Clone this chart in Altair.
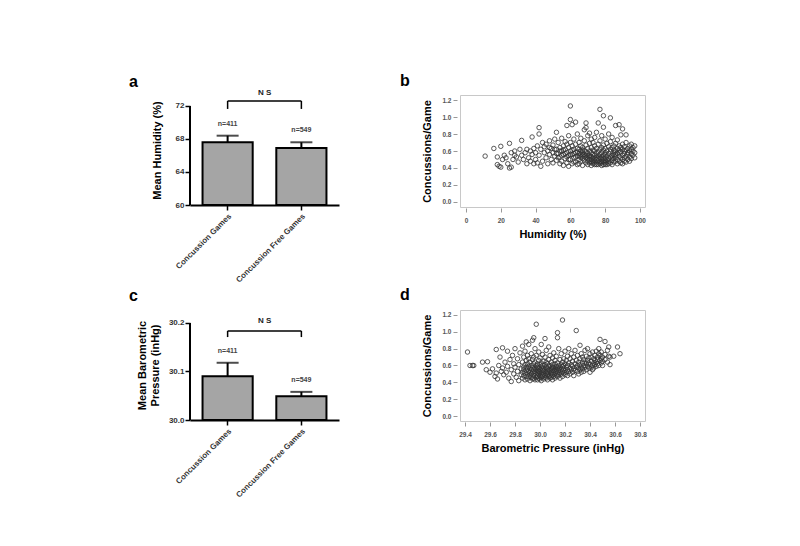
import altair as alt
import pandas as pd

# ---------------- bar panels (a, c) ----------------
CATS = ["Concussion Games", "Concussion Free Games"]
N_LABELS = ["n=411", "n=549"]
HUM_MEAN = [67.6, 66.9]
HUM_UPPER = [68.4, 67.6]
BARO_MEAN = [30.090, 30.049]
BARO_UPPER = [30.118, 30.058]

# ---------------- scatter b: humidity (%) -> concussions/game ----------------
HUM_COLS = [
    (11, [0.54]), (16, [0.63]), (18, [0.53, 0.44]), (19, [0.42]), (20, [0.41, 0.655]),
    (21, [0.50]), (22, [0.55]), (23, [0.52]), (24, [0.45]), (25, [0.69, 0.40]),
    (26, [0.41, 0.58]), (27, [0.50]), (28, [0.55, 0.60]), (29, [0.53]), (30, [0.47]),
    (31, [0.62]), (32, [0.725, 0.55]), (33, [0.50]), (34, [0.58]), (35, [0.45, 0.62]),
    (36, [0.52]), (37, [0.48, 0.60]), (38, [0.765, 0.56]), (39, [0.63, 0.45]),
    (40, [0.58, 0.50]), (41, [0.46, 0.66]), (42, [0.875, 0.80, 0.55]), (43, [0.42, 0.62]),
    (44, [0.48, 0.70]), (45, [0.58, 0.65]), (46, [0.52, 0.68]), (47, [0.60, 0.45]),
    (48, [0.72, 0.56, 0.64]), (49, [0.63, 0.50]), (50, [0.58, 0.67, 0.46]),
    (51, [0.74, 0.54, 0.62]), (52, [0.62, 0.82, 0.49, 0.57]), (53, [0.57, 0.70, 0.52]),
    (54, [0.64, 0.45, 0.53, 0.60]), (55, [0.60, 0.75, 0.48, 0.55]),
    (56, [0.66, 0.56, 0.43, 0.61]), (57, [0.62, 0.71, 0.51, 0.57]),
    (58, [0.58, 0.46, 0.68, 0.90, 0.53]), (59, [0.55, 0.64, 0.42, 0.78, 0.50]),
    (60, [1.13, 0.97, 0.60, 0.50, 0.70, 0.56]), (61, [0.91, 0.56, 0.45, 0.66, 0.61]),
    (62, [0.62, 0.52, 0.74, 0.57, 0.47]), (63, [0.94, 0.58, 0.47, 0.68, 0.53]),
    (64, [0.54, 0.63, 0.80, 0.44, 0.59]), (65, [0.50, 0.57, 0.62, 0.70, 0.45, 0.54]),
    (66, [0.53, 0.60, 0.48, 0.75, 0.66, 0.56]), (67, [0.55, 0.51, 0.64, 0.43, 0.58, 0.61]),
    (68, [0.49, 0.61, 0.56, 0.72, 0.85, 0.53]), (69, [0.93, 0.875, 0.52, 0.59, 0.46, 0.67, 0.55]),
    (70, [0.54, 0.48, 0.63, 0.57, 0.78, 0.44, 0.51]), (71, [0.50, 0.60, 0.55, 0.69, 0.46, 0.81, 0.53]),
    (72, [0.53, 0.47, 0.58, 0.64, 0.43, 0.74, 0.50]), (73, [0.49, 0.56, 0.61, 0.52, 0.45, 0.70, 0.47]),
    (74, [0.55, 0.48, 0.66, 0.51, 0.60, 0.44, 0.76]), (75, [0.50, 0.57, 0.46, 0.63, 0.53, 0.82, 0.44]),
    (76, [0.93, 0.54, 0.48, 0.59, 0.44, 0.68, 0.51]), (77, [1.09, 0.56, 0.47, 0.62, 0.52, 0.72, 0.45]),
    (78, [0.50, 0.58, 0.46, 0.64, 0.53, 0.78, 0.43, 0.48]),
    (79, [1.015, 0.55, 0.48, 0.61, 0.51, 0.88, 0.44, 0.67]),
    (80, [0.52, 0.58, 0.46, 0.63, 0.49, 0.74, 0.56, 0.44]), (81, [0.54, 0.47, 0.60, 0.50, 0.69, 0.44]),
    (82, [0.57, 0.51, 0.65, 0.48, 0.80, 0.45]), (83, [0.99, 0.53, 0.59, 0.46, 0.62, 0.71]),
    (84, [0.55, 0.49, 0.64, 0.52, 0.76, 0.44]), (85, [0.58, 0.51, 0.47, 0.66, 0.55, 0.61]),
    (86, [0.90, 0.53, 0.60, 0.48, 0.69, 0.56]), (87, [0.50, 0.57, 0.63, 0.45, 0.73]),
    (88, [0.91, 0.54, 0.61, 0.48, 0.58, 0.66]), (89, [0.52, 0.59, 0.46, 0.64, 0.79]),
    (90, [0.86, 0.55, 0.62, 0.50, 0.68, 0.45]), (91, [0.57, 0.52, 0.65, 0.48, 0.60]),
    (92, [0.79, 0.54, 0.61, 0.47, 0.70]), (93, [0.56, 0.50, 0.63, 0.58]),
    (94, [0.53, 0.66, 0.48, 0.60]), (95, [0.57, 0.62, 0.51, 0.68]),
    (96, [0.55, 0.64, 0.60]), (97, [0.58, 0.66, 0.52]),
]

# ---------------- scatter d: barometric pressure (inHg) -> concussions/game ----------------
BARO_COLS = [
    (29.42, [0.76]), (29.44, [0.60]), (29.46, [0.60]), (29.47, [0.60]), (29.54, [0.64]),
    (29.57, [0.55]), (29.58, [0.645]), (29.60, [0.52]), (29.62, [0.56]), (29.64, [0.47]),
    (29.65, [0.79, 0.51]), (29.66, [0.44]), (29.67, [0.60]), (29.68, [0.70]), (29.69, [0.53]),
    (29.70, [0.81, 0.57]), (29.71, [0.49]), (29.72, [0.64]), (29.73, [0.52]), (29.74, [0.77, 0.59]),
    (29.75, [0.45]), (29.76, [0.67]), (29.77, [0.55, 0.41]), (29.78, [0.72]), (29.79, [0.50, 0.62]),
    (29.80, [0.58, 0.80]), (29.81, [0.46]), (29.82, [0.53, 0.68]), (29.83, [0.61, 0.42]),
    (29.84, [0.75]), (29.85, [0.49, 0.56]),
    (29.86, [0.52, 0.64, 0.45, 0.83]), (29.87, [0.58, 0.48, 0.70, 0.55]),
    (29.88, [0.43, 0.61, 0.51, 0.77]), (29.89, [0.88, 0.54, 0.47, 0.66, 0.58]),
    (29.90, [0.50, 0.62, 0.44, 0.56, 0.72]), (29.91, [0.53, 0.47, 0.68, 0.59, 0.85]),
    (29.92, [0.49, 0.57, 0.42, 0.64, 0.52]), (29.93, [0.55, 0.46, 0.60, 0.74, 0.50]),
    (29.94, [0.52, 0.58, 0.44, 0.67, 0.90]), (29.95, [0.93, 0.48, 0.55, 0.62, 0.45, 0.70]),
    (29.96, [0.51, 0.57, 0.43, 0.64, 0.53, 0.80]), (29.97, [1.09, 0.49, 0.56, 0.46, 0.60, 0.72]),
    (29.98, [0.54, 0.47, 0.62, 0.51, 0.58, 0.43]), (29.99, [0.50, 0.57, 0.45, 0.66, 0.53, 0.76]),
    (30.00, [0.48, 0.55, 0.61, 0.44, 0.52, 0.69]), (30.01, [0.51, 0.58, 0.46, 0.63, 0.42, 0.85]),
    (30.02, [0.54, 0.49, 0.60, 0.47, 0.73, 0.56]), (30.03, [0.50, 0.57, 0.44, 0.65, 0.53]),
    (30.04, [0.92, 0.48, 0.55, 0.61, 0.46, 0.70]), (30.05, [0.52, 0.58, 0.45, 0.64, 0.50, 0.78]),
    (30.06, [0.49, 0.56, 0.43, 0.62, 0.53]), (30.07, [0.51, 0.59, 0.47, 0.67, 0.55, 0.82]),
    (30.08, [0.54, 0.48, 0.60, 0.45, 0.72]), (30.09, [0.50, 0.57, 0.52, 0.64, 0.46]),
    (30.10, [0.55, 0.49, 0.61, 0.43, 0.69, 0.58]), (30.11, [0.52, 0.58, 0.47, 0.75, 0.54]),
    (30.12, [0.50, 0.56, 0.62, 0.45, 0.66]), (30.13, [0.53, 0.59, 0.48, 0.71, 0.55]),
    (30.14, [0.99, 0.93, 0.51, 0.57, 0.63, 0.47]), (30.15, [0.54, 0.60, 0.49, 0.80, 0.56]),
    (30.16, [0.52, 0.58, 0.45, 0.67]), (30.17, [0.55, 0.61, 0.50, 0.74]),
    (30.18, [1.14, 0.53, 0.59, 0.47, 0.64]), (30.19, [0.56, 0.51, 0.68, 0.60]),
    (30.20, [0.54, 0.62, 0.49, 0.77]), (30.21, [0.58, 0.66, 0.52]), (30.22, [0.55, 0.71, 0.60, 0.48]),
    (30.23, [0.63, 0.53, 0.80]), (30.24, [0.57, 0.68, 0.50]), (30.25, [0.61, 0.55, 0.74]),
    (30.26, [0.52, 0.65, 0.59]), (30.27, [0.70, 0.56, 0.48]), (30.28, [0.62, 0.54, 0.78]),
    (30.29, [1.015, 0.58, 0.66]), (30.30, [0.53, 0.72, 0.60]), (30.31, [0.57, 0.64, 0.50]),
    (30.32, [0.84, 0.61, 0.55, 0.68]), (30.33, [0.58, 0.74, 0.52]), (30.34, [0.63, 0.56, 0.70]),
    (30.35, [0.60, 0.67, 0.53]), (30.36, [0.78, 0.58, 0.64]), (30.37, [0.62, 0.55, 0.71]),
    (30.38, [0.66, 0.59, 0.80]), (30.39, [0.57, 0.69, 0.63]), (30.40, [0.52, 0.61, 0.74]),
    (30.41, [0.65, 0.58, 0.70]), (30.42, [0.60, 0.76, 0.55]), (30.43, [0.68, 0.63, 0.57]),
    (30.44, [0.72, 0.61, 0.66]), (30.45, [0.59, 0.77, 0.64]), (30.46, [0.70, 0.62, 0.67]),
    (30.47, [0.74, 0.60, 0.80]), (30.48, [0.91, 0.66, 0.72]), (30.49, [0.63, 0.76, 0.68]),
    (30.50, [0.70, 0.65, 0.60]), (30.52, [0.885, 0.73, 0.67]), (30.54, [0.78, 0.64]),
    (30.55, [0.71, 0.82]), (30.56, [0.61, 0.70]), (30.59, [0.71]), (30.62, [0.82]), (30.64, [0.74]),
]

FONT = "Liberation Sans"


def cols_to_df(cols):
    xs, ys = [], []
    for xv, yl in cols:
        for yv in yl:
            xs.append(xv)
            ys.append(yv)
    return pd.DataFrame({"x": xs, "y": ys})


def bar_panel(mean, upper, domain, ticks, fmt, ytitle, letter, bracket_y, bracket_tip,
              ns_y, height, title_offset, label_dy, title_pad):
    df = pd.DataFrame({"cat": CATS, "mean": mean, "upper": upper, "n": N_LABELS,
                       "base": [domain[0]] * 2})
    xscale = alt.Scale(domain=CATS, paddingInner=0.32, paddingOuter=0.17)
    yscale = alt.Scale(domain=domain, nice=False, zero=False)
    xaxis = alt.Axis(labelAngle=-45, labelFontSize=8, labelFont=FONT,
                     labelFontWeight="bold", labelColor="#333",
                     domainColor="black", domainWidth=2, tickColor="black",
                     tickWidth=1.5, tickSize=5, labelPadding=2)
    yaxis = alt.Axis(values=ticks, format=fmt, labelFontSize=8, labelFont=FONT,
                     labelFontWeight="bold", labelColor="#333", domain=False,
                     tickColor="black", tickWidth=1.5, tickSize=5, labelPadding=1, grid=False,
                     labelOverlap=False,
                     titleFont=FONT, titleFontSize=11, titleFontWeight="bold",
                     titleColor="black", titlePadding=title_pad)

    def X(f):
        return alt.X(f, scale=xscale, title=None, axis=xaxis)

    def Y(f):
        return alt.Y(f, scale=yscale, title=ytitle, axis=yaxis)

    base = alt.Chart(df)
    bars = base.mark_bar(fill="#a5a5a5", stroke="black", strokeWidth=2).encode(
        x=X("cat:N"), y=Y("mean:Q"), y2="base:Q")
    err = base.mark_rule(color="black", strokeWidth=2).encode(
        x=X("cat:N"), y=Y("mean:Q"), y2="upper:Q")
    cap = base.mark_tick(color="black", thickness=2, size=22).encode(
        x=X("cat:N"), y=Y("upper:Q"))
    nlab = base.mark_text(font=FONT, fontSize=7, fontWeight="bold", color="#444",
                          dy=label_dy, baseline="middle").encode(
        x=X("cat:N"), y=Y("upper:Q"), text="n:N")

    # y axis line: only spans the tick range (like the original Prism axis)
    axline = alt.Chart(pd.DataFrame({"y0": [ticks[0]], "y1": [ticks[-1]]})).mark_rule(
        color="black", strokeWidth=2).encode(x=alt.value(0), y=Y("y0:Q"), y2="y1:Q")

    br = pd.DataFrame({"c1": [CATS[0]], "c2": [CATS[1]], "yb": [bracket_y], "ns": ["N S"],
                       "nsy": [ns_y]})
    legs = pd.DataFrame({"cat": CATS, "yb": [bracket_y] * 2, "yt": [bracket_tip] * 2})
    hline = alt.Chart(br).mark_rule(color="black", strokeWidth=1.5, clip=False).encode(
        x=X("c1:N"), x2="c2:N", y=Y("yb:Q"))
    vlegs = alt.Chart(legs).mark_rule(color="black", strokeWidth=1.5, clip=False).encode(
        x=X("cat:N"), y=Y("yb:Q"), y2="yt:Q")
    ns = alt.Chart(br).mark_text(font=FONT, fontSize=8, fontWeight="bold", color="#222",
                                 dx=37, baseline="middle", clip=False).encode(
        x=X("c1:N"), y=Y("nsy:Q"), text="ns:N")

    return alt.layer(bars, err, cap, nlab, axline, hline, vlegs, ns).properties(
        width=149, height=height,
        view=alt.ViewBackground(stroke="transparent"),
        title=alt.TitleParams(letter, anchor="start", frame="group", dx=-61, fontSize=16,
                              font=FONT, fontWeight="bold", offset=title_offset,
                              baseline="alphabetic", color="black"),
    )


def scatter_panel(cols, xdom, xticks, xfmt, xtitle, letter, height, title_offset):
    df = cols_to_df(cols)
    return alt.Chart(df).mark_point(shape="circle", filled=False, size=20, strokeWidth=0.9,
                                    color="#333333", opacity=0.9).encode(
        x=alt.X("x:Q", scale=alt.Scale(domain=xdom, nice=False, zero=False), title=xtitle,
                axis=alt.Axis(values=xticks, format=xfmt, domain=False, grid=False,
                              tickColor="#999", tickSize=4, offset=1, labelFont=FONT,
                              labelFontSize=6.5, labelFontWeight="bold", labelColor="#555",
                              labelPadding=5, titleFont=FONT, titleFontSize=11,
                              titleFontWeight="bold", titleColor="black", titlePadding=5)),
        y=alt.Y("y:Q", scale=alt.Scale(domain=[-0.059, 1.259], nice=False, zero=False),
                title="Concussions/Game",
                axis=alt.Axis(values=[0.0, 0.2, 0.4, 0.6, 0.8, 1.0, 1.2], format=".1f",
                              domain=False, grid=False, tickColor="#999", tickSize=4,
                              offset=3, labelFont=FONT, labelFontSize=6.5,
                              labelFontWeight="bold", labelColor="#555", labelPadding=2,
                              titleFont=FONT, titleFontSize=11, titleFontWeight="bold",
                              titleColor="black", titlePadding=9)),
    ).properties(
        width=185, height=height,
        view=alt.ViewBackground(stroke="#c8c8c8", strokeWidth=1),
        title=alt.TitleParams(letter, anchor="start", frame="group", dx=-60, fontSize=16,
                              font=FONT, fontWeight="bold", offset=title_offset,
                              baseline="alphabetic", color="black"),
    )


pa = bar_panel(HUM_MEAN, HUM_UPPER, [60, 73.33], [60, 64, 68, 72], "d", "Mean Humidity (%)", "a",
               72.6, 71.64, 73.58, 110, -14, -12, 13)
pb = scatter_panel(HUM_COLS, [-3.45, 102.9], [0, 20, 40, 60, 80, 100], "d", "Humidity (%)", "b",
                   112, -7)
pc = bar_panel(BARO_MEAN, BARO_UPPER, [30.0, 30.2268], [30.0, 30.1, 30.2], ".1f",
               ["Mean Barometric", "Pressure (inHg)"], "c", 30.1835, 30.171, 30.204, 110, -7,
               -12, 8)
pd_ = scatter_panel(BARO_COLS, [29.36, 30.84], [29.4, 29.6, 29.8, 30.0, 30.2, 30.4, 30.6, 30.8],
                    ".1f", "Barometric Pressure (inHg)", "d", 111, -6)

top = alt.hconcat(pa, pb, spacing=59)
bottom = alt.hconcat(pc, pd_, spacing=59)
chart = alt.vconcat(top, bottom, spacing=1).properties(
    padding={"left": 120, "top": 64, "right": 5, "bottom": 5}
).configure_view(stroke=None).configure(background="white")

chart.save("out.html", embed_options={"renderer": "svg", "actions": False})
